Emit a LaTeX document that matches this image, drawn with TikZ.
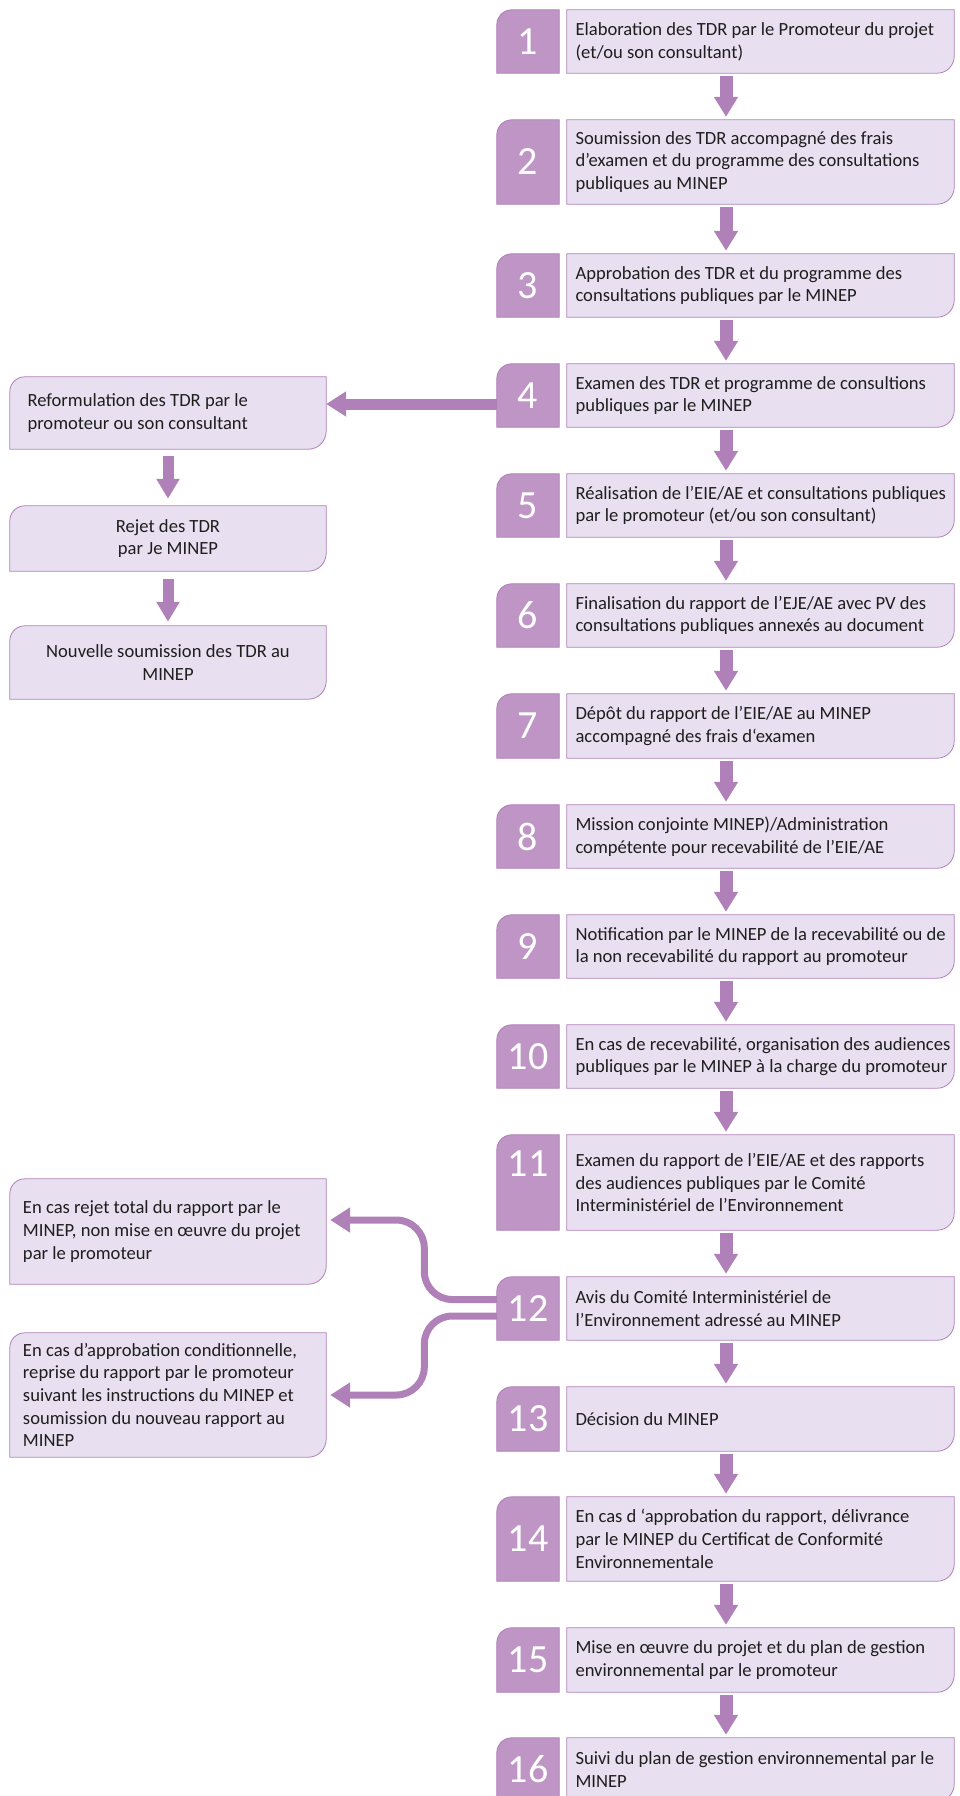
\documentclass[tikz,border=0pt]{standalone}
\usepackage{fontspec}
\setmainfont{Carlito}
\usetikzlibrary{arrows.meta,calc}
\pgfdeclarelayer{bg}
\pgfsetlayers{bg,main}
\definecolor{numfill}{RGB}{190,149,197}
\definecolor{numline}{RGB}{176,122,184}
\definecolor{boxfill}{RGB}{232,224,240}
\definecolor{boxline}{RGB}{178,126,187}
\definecolor{arrowc}{RGB}{176,128,184}
\definecolor{txtc}{RGB}{30,30,30}
\tikzset{
  numbox/.style={rectangle, minimum width=62pt, inner sep=0pt, text=white, font=\fontsize{40}{40}\selectfont},
  framebox/.style={rectangle, minimum width=387pt, inner sep=0pt},
  sidebox/.style={rectangle, minimum width=316pt, inner sep=0pt},
  lbl/.style={inner sep=0pt, align=left, text=txtc, font=\fontsize{18.6}{22.7}\selectfont},
  numshape/.style={fill=numfill, draw=numline, line width=0.8pt},
  boxshape/.style={fill=boxfill, draw=boxline, line width=0.8pt},
  varrow/.style={draw=arrowc, line width=13pt, -{Triangle[width=23pt,length=20pt]}},
  sarrow/.style={draw=arrowc, line width=11pt, -{Triangle[width=22pt,length=20pt]}},
  harrow/.style={draw=arrowc, line width=11pt, -{Triangle[width=24pt,length=20pt]}},
  carrow/.style={draw=arrowc, line width=7pt, rounded corners=28pt, -{Triangle[width=24pt,length=20pt]}}
}
\newcommand\mkstep[5]{%
  \node[numbox, minimum height={(#3-#2)*1pt}, #5] (n#1) at (528,{-(#2+#3)/2}) {#1};
  \node[framebox, minimum height={(#3-#2)*1pt}] (t#1) at (760.5,{-(#2+#3)/2}) {};
  \node[lbl, anchor=west] (l#1) at ([xshift=8.5pt]t#1.west) {#4};
  \begin{pgfonlayer}{bg}
    \path[numshape] (n#1.south west) -- ([yshift=-15pt]n#1.north west)
      arc[start angle=180,end angle=90,radius=15pt] -- (n#1.north east) -- (n#1.south east) -- cycle;
    \path[boxshape] (t#1.north west) -- (t#1.north east) -- ([yshift=17pt]t#1.south east)
      arc[start angle=0,end angle=-90,radius=17pt] -- (t#1.south west) -- cycle;
  \end{pgfonlayer}
}
\newcommand\sideshape[1]{%
  \begin{pgfonlayer}{bg}
    \path[boxshape] (#1.south west) -- ([yshift=-15pt]#1.north west)
      arc[start angle=180,end angle=90,radius=15pt] -- (#1.north east) -- ([yshift=18pt]#1.south east)
      arc[start angle=0,end angle=-90,radius=18pt] -- cycle;
  \end{pgfonlayer}
}
\begin{document}
\begin{tikzpicture}[x=1pt,y=1pt]
\useasboundingbox (0,0) rectangle (960,-1796);

\mkstep{1}{10}{73}{Elaboration des TDR par le Promoteur du projet\\(et/ou son consultant)}{}
\mkstep{2}{120}{204}{Soumission des TDR accompagné des frais\\d’examen et du programme des consultations\\publiques au MINEP}{}
\mkstep{3}{254}{317}{Approbation des TDR et du programme des\\consultations publiques par le MINEP}{}
\mkstep{4}{364}{427}{Examen des TDR et programme de consultions\\publiques par le MINEP}{}
\mkstep{5}{474}{537}{Réalisation de l’EIE/AE et consultations publiques\\par le promoteur (et/ou son consultant)}{}
\mkstep{6}{584}{647}{Finalisation du rapport de l’EJE/AE avec PV des\\consultations publiques annexés au document}{}
\mkstep{7}{694}{758}{Dépôt du rapport de l’EIE/AE au MINEP\\accompagné des frais d‘examen}{}
\mkstep{8}{805}{868}{Mission conjointe MINEP)/Administration\\compétente pour recevabilité de l’EIE/AE}{}
\mkstep{9}{915}{978}{Notification par le MINEP de la recevabilité ou de\\la non recevabilité du rapport au promoteur}{}
\mkstep{10}{1025}{1088}{En cas de recevabilité, organisation des audiences\\publiques par le MINEP à la charge du promoteur}{}
\mkstep{11}{1135}{1230}{Examen du rapport de l’EIE/AE et des rapports\\des audiences publiques par le Comité\\Interministériel de l’Environnement}{text depth=38pt}
\mkstep{12}{1277}{1340}{Avis du Comité Interministériel de\\l’Environnement adressé au MINEP}{}
\mkstep{13}{1387}{1451}{Décision du MINEP}{}
\mkstep{14}{1497}{1581}{En cas d ‘approbation du rapport, délivrance\\par le MINEP du Certificat de Conformité\\Environnementale}{}
\mkstep{15}{1628}{1692}{Mise en œuvre du projet et du plan de gestion\\environnemental par le promoteur}{}
\mkstep{16}{1738}{1801}{Suivi du plan de gestion environnemental par le\\MINEP}{}

\foreach \i/\j in {1/2,2/3,3/4,4/5,5/6,6/7,7/8,8/9,9/10,10/11,11/12,12/13,13/14,14/15,15/16}
  \draw[varrow] ([xshift=-34.5pt,yshift=-3pt]t\i.south) -- ([xshift=-34.5pt,yshift=3pt]t\j.north);

% left side boxes
\node[sidebox, minimum height=72pt] (a) at (168,-413) {};
\node[lbl, anchor=west] (la) at ([xshift=17.5pt]a.west) {Reformulation des TDR par le\\promoteur ou son consultant};
\sideshape{a}
\node[sidebox, minimum height=65pt] (b) at (168,-538.5) {};
\node[lbl, align=center] (lb) at (b) {Rejet des TDR\\par Je MINEP};
\sideshape{b}
\node[sidebox, minimum height=73pt] (c) at (168,-662.5) {};
\node[lbl, align=center] (lc) at (c) {Nouvelle soumission des TDR au\\MINEP};
\sideshape{c}
\node[sidebox, minimum height=105pt] (d) at (168,-1231.5) {};
\node[lbl, anchor=west] (ld) at ([xshift=13pt]d.west) {En cas rejet total du rapport par le\\MINEP, non mise en œuvre du projet\\par le promoteur};
\sideshape{d}
\node[sidebox, minimum height=124pt] (e) at (168,-1395) {};
\node[lbl, anchor=west] (le) at ([xshift=13pt]e.west) {En cas d’approbation conditionnelle,\\reprise du rapport par le promoteur\\suivant les instructions du MINEP et\\soumission du nouveau rapport au\\MINEP};
\sideshape{e}

\draw[harrow] ([yshift=-8.5pt]n4.west) -- ([yshift=9pt]a.east);
\draw[sarrow] ([yshift=-7pt]a.south) -- ([yshift=7pt]b.north);
\draw[sarrow] ([yshift=-8pt]b.south) -- ([yshift=4pt]c.north);

\draw[carrow] ([yshift=9pt]n12.west) -- ++(-72.5,0) |- ([xshift=4pt,yshift=11.5pt]d.east);
\draw[carrow] ([yshift=-7.5pt]n12.west) -- ++(-72.5,0) |- ([xshift=4pt]e.east);
\end{tikzpicture}
\end{document}
